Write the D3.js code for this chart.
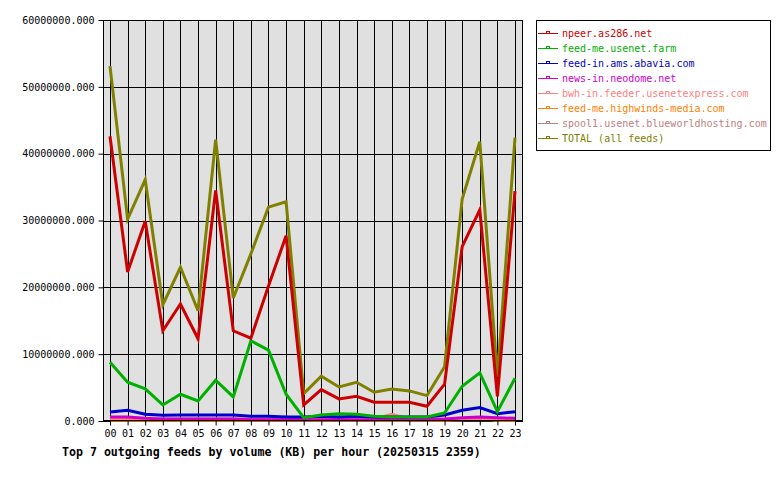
<!DOCTYPE html>
<html><head><meta charset="utf-8">
<script src="https://cdn.jsdelivr.net/npm/d3@7"></script>
<style>body{margin:0;background:#fff}svg{display:block}</style>
</head><body>
<svg id="c" width="780" height="480"></svg>
<script>
const hours = ["00","01","02","03","04","05","06","07","08","09","10","11","12","13","14","15","16","17","18","19","20","21","22","23"];
const yTicks = [0,10000000,20000000,30000000,40000000,50000000,60000000];
const seriesNames = ["npeer.as286.net","feed-me.usenet.farm","feed-in.ams.abavia.com","news-in.neodome.net","bwh-in.feeder.usenetexpress.com","feed-me.highwinds-media.com","spool1.usenet.blueworldhosting.com","TOTAL (all feeds)"];
const seriesColors = ["#cc0000","#00b000","#0000cc","#cc00cc","#ff8080","#ff8000","#c08080","#808000"];
const npeer = [42.6,22.3,29.9,13.5,17.5,12.3,34.5,13.5,12.4,20.2,27.7,2.4,4.7,3.3,3.7,2.8,2.8,2.8,2.2,5.5,26.1,31.6,3.7,34.4];
const feedmeFarm = [8.8,5.8,4.8,2.4,4.0,3.0,6.1,3.6,12.0,10.6,4.0,0.5,0.9,1.1,1.0,0.7,0.6,0.6,0.6,1.2,5.2,7.2,1.4,6.4];
const abavia = [1.35,1.6,1.0,0.85,0.9,0.9,0.9,0.9,0.7,0.7,0.6,0.6,0.7,0.6,0.7,0.6,0.6,0.6,0.6,0.9,1.6,2.0,1.1,1.4];
const neodome = [0.6,0.6,0.4,0.3,0.3,0.3,0.3,0.3,0.2,0.2,0.2,0.2,0.2,0.2,0.2,0.2,0.3,0.2,0.2,0.3,0.5,0.6,0.5,0.4];
const bwh = [0.3,0.3,0.3,0.3,0.3,0.3,0.3,0.3,0.3,0.3,0.3,0.3,0.3,0.3,0.3,0.3,1.0,0.3,0.3,0.3,0.3,0.3,0.3,0.3];
const highwinds = [0.1,0.1,0.1,0.1,0.1,0.1,0.1,0.1,0.1,0.1,0.1,0.1,0.1,0.1,0.1,0.1,0.1,0.1,0.1,0.1,0.2,0.4,0.1,0.1];
const spool1 = [0.4,0.2,0.2,0.2,0.2,0.2,0.2,0.2,0.2,0.2,0.2,0.2,0.2,0.2,0.2,0.2,0.2,0.2,0.2,0.2,0.2,0.2,0.2,0.2];
const total = [53.1,30.2,36.1,17.4,23.0,16.5,42.1,18.4,25.0,32.0,32.8,4.1,6.7,5.1,5.8,4.3,4.8,4.5,3.8,8.1,33.2,41.8,6.6,42.4];
const seriesValues = [npeer,feedmeFarm,abavia,neodome,bwh,highwinds,spool1,total];
const title = "Top 7 outgoing feeds by volume (KB) per hour (20250315 2359)";

const svg = d3.select("#c");
const FONT = "'DejaVu Sans Mono', monospace";
const L = 103, R = 523, T = 20, B = 421;
const x = d3.scaleLinear().domain([0, 23]).range([110, 515]);
const y = d3.scaleLinear().domain([0, 60000000]).range([B, T]);

svg.append("rect").attr("x", L).attr("y", T).attr("width", R - L).attr("height", B - T).attr("fill", "#e0e0e0");

// grid
svg.append("g").selectAll("line").data(hours).join("line")
  .attr("x1", (d, i) => Math.round(x(i)) + 0.5).attr("x2", (d, i) => Math.round(x(i)) + 0.5)
  .attr("y1", T).attr("y2", B).attr("stroke", "#000").attr("stroke-width", 1);
svg.append("g").selectAll("line").data(yTicks).join("line")
  .attr("x1", L).attr("x2", R)
  .attr("y1", d => Math.round(y(d)) + 0.5).attr("y2", d => Math.round(y(d)) + 0.5)
  .attr("stroke", "#000").attr("stroke-width", 1);

// lines (draw TOTAL first so npeer ends on top)
const line = d3.line().x((d, i) => x(i)).y(d => y(d * 1e6));
for (let s = seriesValues.length - 1; s >= 0; s--) {
  svg.append("path").datum(seriesValues[s]).attr("d", line)
    .attr("fill", "none").attr("stroke", seriesColors[s]).attr("stroke-width", 3)
    .attr("stroke-linejoin", "miter");
}

svg.append("rect").attr("x", L + 0.5).attr("y", T + 0.5).attr("width", R - L - 1).attr("height", B - T - 1)
  .attr("fill", "none").attr("stroke", "#000");

// axes
const yAxis = d3.axisLeft(y).tickValues(yTicks).tickSize(5).tickPadding(4)
  .tickFormat(d => d3.format(".3f")(d));
const gy = svg.append("g").attr("transform", `translate(${L + 0.5},0)`).call(yAxis);
gy.select(".domain").remove();
gy.selectAll("text").attr("font-family", FONT).attr("font-size", "10px").attr("fill", "#000");

const xAxis = d3.axisBottom(x).tickValues(d3.range(24)).tickSize(5).tickPadding(4)
  .tickFormat(i => hours[i]);
const gx = svg.append("g").attr("transform", `translate(0,${B - 0.5})`).call(xAxis);
gx.select(".domain").remove();
gx.selectAll("text").attr("font-family", FONT).attr("font-size", "10px").attr("fill", "#000");

svg.append("text").attr("x", 62).attr("y", 456).attr("font-family", FONT)
  .attr("font-size", "11.6px").attr("font-weight", "bold").attr("fill", "#000").text(title);

// legend
svg.append("rect").attr("x", 536.5).attr("y", 20.5).attr("width", 234).attr("height", 130)
  .attr("fill", "#fff").attr("stroke", "#000");
const lg = svg.append("g").selectAll("g").data(seriesNames).join("g")
  .attr("transform", (d, i) => `translate(0,${33 + i * 15})`);
lg.append("line").attr("x1", 538).attr("x2", 558).attr("y1", 0.5).attr("y2", 0.5)
  .attr("stroke", (d, i) => seriesColors[i]).attr("stroke-width", 1);
lg.append("rect").attr("x", 546.5).attr("y", -1.5).attr("width", 3).attr("height", 2)
  .attr("fill", "none").attr("stroke", (d, i) => seriesColors[i]).attr("stroke-width", 1);
lg.append("text").attr("x", 562).attr("y", 0).attr("dy", "0.35em")
  .attr("font-family", FONT).attr("font-size", "10px")
  .attr("fill", (d, i) => seriesColors[i]).text(d => d);
</script>
</body></html>
